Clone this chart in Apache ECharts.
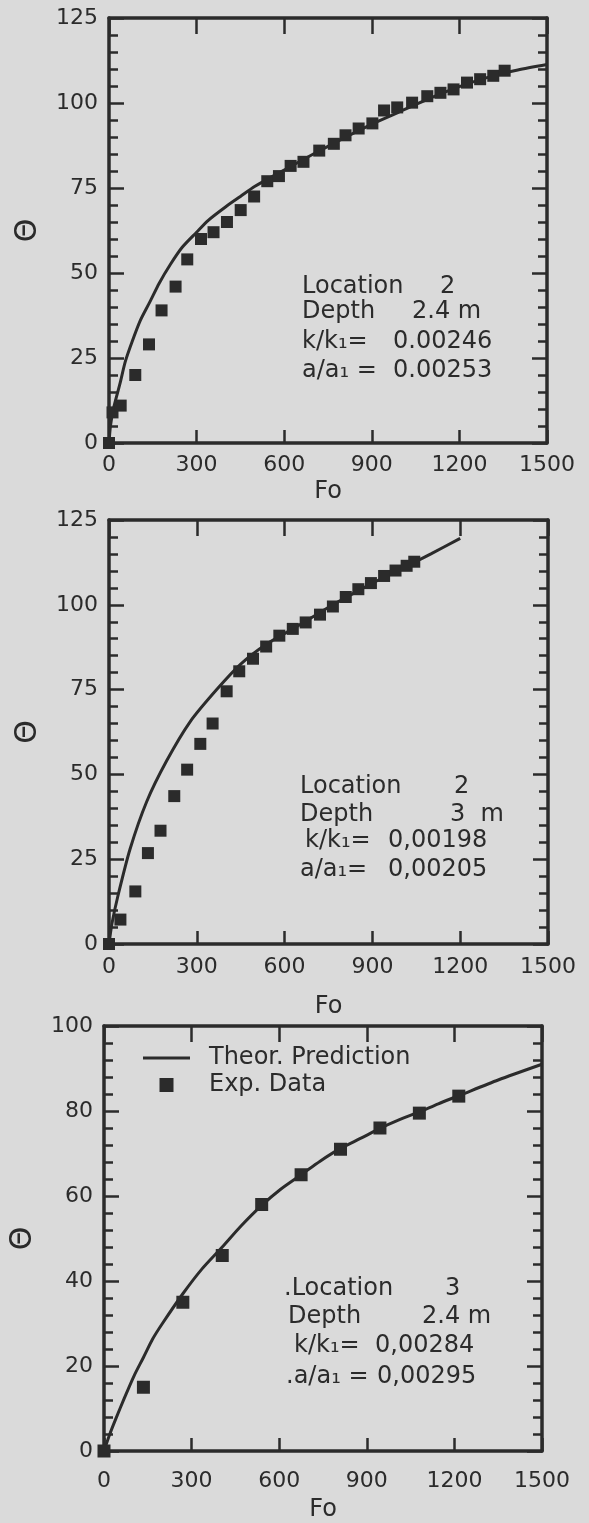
<!DOCTYPE html>
<html>
<head>
<meta charset="utf-8">
<script src="https://cdn.jsdelivr.net/npm/echarts@6/dist/echarts.min.js"></script>
<style>
  html, body { margin: 0; padding: 0; background: #dadada; }
  #chart { width: 589px; height: 1523px; }
</style>
</head>
<body>
<div id="chart"></div>
<script>
// panel 1: Location 2, depth 2.4 m
const expFo1 = [0, 12, 40, 90, 137, 180, 228, 268, 315, 358, 404, 451, 497, 542, 582, 622, 666, 720, 770, 810, 855, 902, 942, 987, 1038, 1090, 1135, 1180, 1226, 1271, 1316, 1355]
const expTh1 = [0, 9, 11, 20, 29, 39, 46, 54, 60, 62, 65, 68.5, 72.5, 77, 78.5, 81.5, 82.7, 86, 88, 90.5, 92.5, 94, 97.8, 98.7, 100.1, 102, 103, 104, 106, 107, 108, 109.5]
const theoFo1 = [0, 5, 15, 38, 56, 80, 107, 140, 172, 210, 250, 300, 340, 400, 450, 500, 600, 700, 800, 900, 1000, 1100, 1200, 1300, 1400, 1500]
const theoTh1 = [0, 5, 10, 17.6, 24, 30, 36, 41.5, 47, 52.5, 57.5, 62, 65.5, 69.5, 72.5, 75.5, 80.3, 85, 89.5, 93.8, 97.6, 101.4, 104.8, 107.6, 109.7, 111.3]

// panel 2: Location 2, depth 3 m
const expFo2 = [0, 39, 90, 133, 176, 223, 267, 312, 354, 402, 445, 492, 537, 582, 628, 672, 721, 765, 809, 852, 895, 940, 979, 1017, 1043]
const expTh2 = [0, 7.2, 15.5, 26.8, 33.4, 43.6, 51.4, 59, 65, 74.5, 80.4, 84.1, 87.7, 90.9, 92.9, 94.8, 97.1, 99.5, 102.3, 104.6, 106.4, 108.5, 110.1, 111.5, 112.7]
const theoFo2 = [0, 10, 30, 72, 129, 197, 277, 368, 450, 540, 640, 755, 870, 960, 1043, 1100, 1200]
const theoTh2 = [0, 6, 14, 28, 42, 54, 65.5, 75, 82.5, 88.5, 93.5, 99.5, 105, 109, 112.5, 115, 119.6]

// panel 3: Location 3, depth 2.4 m
const expFo3 = [0, 135, 270, 405, 540, 675, 810, 945, 1080, 1215]
const expTh3 = [0, 15, 35, 46, 58, 65, 71, 76, 79.5, 83.5]
const theoFo3 = [0, 20, 40, 70, 103, 135, 167, 200, 270, 335, 405, 470, 540, 605, 675, 740, 810, 880, 945, 1010, 1080, 1145, 1215, 1350, 1500]
const theoTh3 = [0, 4, 7.5, 12.5, 17.7, 22, 26.4, 30, 37, 42.8, 48, 53, 57.8, 61.6, 65, 68.2, 71.2, 73.6, 75.9, 77.9, 79.8, 81.7, 83.6, 87.3, 91]

const notes1 = [['Location', '2'], ['Depth', '2.4 m'], ['k/k₁=', '0.00246'], ['a/a₁ =', '0.00253']]
const notes2 = [['Location', '2'], ['Depth', '3  m'], ['k/k₁=', '0,00198'], ['a/a₁=', '0,00205']]
const notes3 = [['.Location', '3'], ['Depth', '2.4 m'], ['k/k₁=', '0,00284'], ['.a/a₁ =', '0,00295']]

const ink = '#2b2b2b'
const font = 'DejaVu Sans'

const chart = echarts.init(document.getElementById('chart'))

// grid boxes [left, top, width, height]
const boxes = [[109, 18, 438, 425], [109, 520, 439, 424], [102, 1026, 440, 427]]
const yMax = [125, 125, 100]
const yStep = [25, 25, 20]
const labelGap = [11, 12, 19]
const foGap = [37, 51, 47]

const pair = (xs, ys) => xs.map((x, i) => [x, ys[i]])
const plain = v => String(v)

const grids = [], xAxes = [], yAxes = [], series = []
boxes.forEach((b, i) => {
  grids.push({ left: b[0], top: b[1], width: b[2], height: b[3] })
  const axisLine = { show: true, onZero: false, lineStyle: { color: ink, width: 3.5 } }
  // bottom + top x axes
  xAxes.push({
    gridIndex: i, type: 'value', min: 0, max: 1500, interval: 300, position: 'bottom',
    name: 'Fo', nameLocation: 'middle', nameGap: foGap[i],
    nameTextStyle: { color: ink, fontSize: 24, fontFamily: font },
    axisLine,
    axisTick: { inside: true, length: 13, lineStyle: { color: ink, width: 2.5 } },
    axisLabel: { color: ink, fontSize: 22, fontFamily: font, margin: labelGap[i], formatter: plain },
    splitLine: { show: false }
  })
  xAxes.push({
    gridIndex: i, type: 'value', min: 0, max: 1500, interval: 300, position: 'top',
    axisLine,
    axisTick: { inside: true, length: 16, lineStyle: { color: ink, width: 2.5 } },
    axisLabel: { show: false },
    splitLine: { show: false }
  })
  // left + right y axes
  yAxes.push({
    gridIndex: i, type: 'value', min: 0, max: yMax[i], interval: yStep[i], position: 'left',
    name: 'Θ', nameLocation: 'middle', nameGap: 66, nameRotate: 90,
    nameTextStyle: { color: ink, fontSize: 30, fontFamily: font },
    axisLine,
    axisTick: { inside: true, length: 15, lineStyle: { color: ink, width: 2.5 } },
    minorTick: { show: true, splitNumber: 5, length: 9, lineStyle: { color: ink, width: 2.5 } },
    axisLabel: { color: ink, fontSize: 22, fontFamily: font, margin: 11, formatter: plain },
    splitLine: { show: false }
  })
  yAxes.push({
    gridIndex: i, type: 'value', min: 0, max: yMax[i], interval: yStep[i], position: 'right',
    axisLine,
    axisTick: { inside: true, length: 15, lineStyle: { color: ink, width: 2.5 } },
    minorTick: { show: true, splitNumber: 5, length: 9, lineStyle: { color: ink, width: 2.5 } },
    axisLabel: { show: false },
    splitLine: { show: false }
  })
})

const sets = [[theoFo1, theoTh1, expFo1, expTh1, 12], [theoFo2, theoTh2, expFo2, expTh2, 12], [theoFo3, theoTh3, expFo3, expTh3, 13]]
sets.forEach((s, i) => {
  series.push({
    name: 'Theor. Prediction', type: 'line', xAxisIndex: i * 2, yAxisIndex: i * 2,
    data: pair(s[0], s[1]), smooth: 0.25, showSymbol: false,
    lineStyle: { color: ink, width: 3 }, itemStyle: { color: ink }, z: 3
  })
  series.push({
    name: 'Exp. Data', type: 'scatter', xAxisIndex: i * 2, yAxisIndex: i * 2,
    data: pair(s[2], s[3]), symbol: 'rect', symbolSize: s[4],
    itemStyle: { color: ink, opacity: 1 }, z: 4
  })
})

// annotation blocks: rows, left text x, right text x, row centre y
const noteBlocks = [
  [notes1, [302, 302, 302, 302], [440, 412, 393, 393], [288, 313, 343, 372]],
  [notes2, [300, 300, 305, 300], [454, 450, 388, 388], [788, 816, 842, 871]],
  [notes3, [284, 288, 294, 286], [445, 422, 375, 377], [1290, 1318, 1347, 1378]]
]
const graphic = []
noteBlocks.forEach(nb => {
  nb[0].forEach((row, j) => {
    graphic.push({ type: 'text', left: nb[1][j], top: nb[3][j] - 13,
      style: { text: row[0], fill: ink, font: '24px "DejaVu Sans"' } })
    graphic.push({ type: 'text', left: nb[2][j], top: nb[3][j] - 13,
      style: { text: row[1], fill: ink, font: '24px "DejaVu Sans"' } })
  })
})

chart.setOption({
  backgroundColor: '#dadada',
  animation: false,
  grid: grids,
  xAxis: xAxes,
  yAxis: yAxes,
  legend: {
    orient: 'vertical', left: 138, top: 1041,
    itemWidth: 47, itemHeight: 14, itemGap: 3,
    selectedMode: false,
    data: [
      { name: 'Theor. Prediction', icon: 'path://M0,0 L47,0 L47,3 L0,3 Z' },
      { name: 'Exp. Data', icon: 'path://M0,0 L14,0 L14,14 L0,14 Z' }
    ],
    textStyle: { color: ink, fontSize: 24, fontFamily: font, lineHeight: 24, padding: [0, 0, 0, 14] }
  },
  graphic,
  series
})
</script>
</body>
</html>
